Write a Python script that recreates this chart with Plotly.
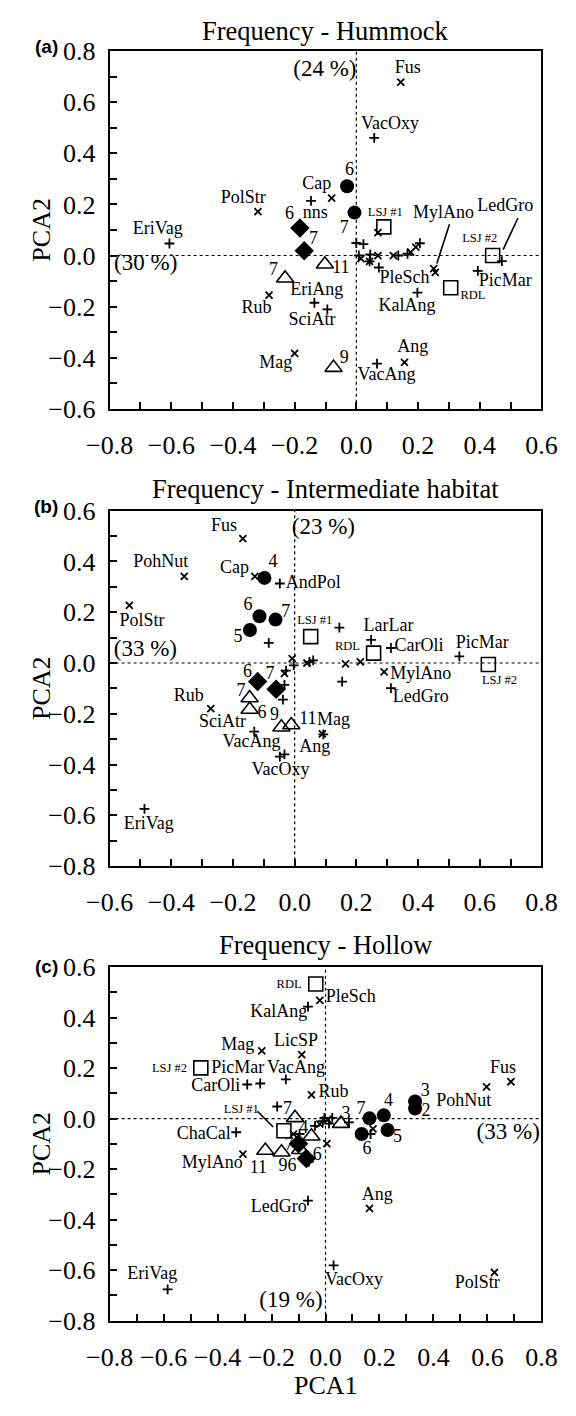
import plotly.graph_objects as go

# ---------------- Panel (a) Hummock ----------------
A_XMARK_X = [0.144, -0.080, -0.319, 0.070, -0.283, -0.200, 0.156, 0.015, 0.043, 0.070, 0.120, 0.176, 0.193, 0.251, 0.256]
A_XMARK_Y = [0.679, 0.225, 0.172, 0.090, -0.155, -0.383, -0.418, -0.012, -0.023, 0.000, 0.000, 0.013, 0.033, -0.051, -0.066]
A_PLUS_X = [0.058, -0.147, -0.606, -0.136, -0.094, 0.067, 0.198, 0.394, 0.472, 0.000, 0.023, 0.008, 0.045, 0.043, 0.073, 0.136, 0.166, 0.206]
A_PLUS_Y = [0.461, 0.214, 0.047, -0.185, -0.211, -0.423, -0.145, -0.060, -0.022, 0.049, 0.045, 0.000, 0.004, -0.023, -0.047, 0.000, 0.007, 0.048]
A_CIRC_X = [-0.030, -0.006]
A_CIRC_Y = [0.271, 0.168]
A_DIAM_X = [-0.183, -0.169]
A_DIAM_Y = [0.108, 0.019]
A_TRI_X = [-0.102, -0.231, -0.074]
A_TRI_Y = [-0.034, -0.089, -0.439]
A_SQ_X = [0.089, 0.442, 0.306]
A_SQ_Y = [0.112, 0.000, -0.126]
A_LAB_TEXT = ["Fus", "VacOxy", "6", "Cap", "nns", "PolStr", "7", "6", "7", "EriVag", "MylAno", "LedGro",
              "11", "7", "EriAng", "Rub", "SciAtr", "Mag", "9", "VacAng", "Ang", "KalAng", "PleSch", "PicMar"]
A_LAB_X = [0.167, 0.109, -0.022, -0.128, -0.133, -0.367, -0.039, -0.217, -0.139, -0.644, 0.283, 0.483,
           -0.050, -0.269, -0.128, -0.324, -0.144, -0.261, -0.039, 0.098, 0.183, 0.164, 0.156, 0.483]
A_LAB_Y = [0.732, 0.512, 0.331, 0.278, 0.166, 0.225, 0.104, 0.159, 0.064, 0.102, 0.166, 0.191,
           -0.051, -0.060, -0.136, -0.209, -0.255, -0.423, -0.404, -0.471, -0.359, -0.200, -0.089, -0.102]
A_SMALL_TEXT = ["LSJ #1", "LSJ #2", "RDL"]
A_SMALL_X = [0.094, 0.400, 0.378]
A_SMALL_Y = [0.166, 0.064, -0.158]
A_PCT_TEXT = ["(24 %)", "(30 %)"]
A_PCT_X = [-0.102, -0.683]
A_PCT_Y = [0.726, -0.034]
A_LEADERS = [(0.302, 0.122, 0.261, -0.031), (0.524, 0.147, 0.476, 0.023)]

# ---------------- Panel (b) Intermediate ----------------
B_XMARK_X = [-0.168, -0.358, -0.536, -0.129, 0.165, 0.213, 0.290, -0.008, -0.033, -0.272, 0.090, 0.040]
B_XMARK_Y = [0.490, 0.341, 0.227, 0.341, -0.003, 0.004, -0.035, 0.017, -0.041, -0.180, -0.279, 0.000]
B_PLUS_X = [-0.048, -0.084, 0.145, 0.248, 0.312, 0.534, 0.312, 0.154, -0.003, -0.033, -0.038, -0.131, -0.048, -0.033, 0.093, 0.048, 0.060, -0.487, -0.028]
B_PLUS_Y = [0.313, 0.079, 0.139, 0.091, 0.059, 0.026, -0.099, -0.073, -0.009, -0.086, -0.144, -0.270, -0.369, -0.360, -0.281, 0.004, 0.010, -0.574, -0.030]
B_CIRC_X = [-0.098, -0.114, -0.062, -0.145]
B_CIRC_Y = [0.335, 0.184, 0.171, 0.130]
B_DIAM_X = [-0.120, -0.060]
B_DIAM_Y = [-0.073, -0.103]
B_TRI_X = [-0.146, -0.146, -0.043, -0.011]
B_TRI_Y = [-0.138, -0.183, -0.253, -0.244]
B_SQ_X = [0.052, 0.256, 0.628]
B_SQ_Y = [0.104, 0.039, -0.006]
B_LAB_TEXT = ["Fus", "PohNut", "PolStr", "Cap", "4", "AndPol", "6", "7", "5", "LarLar", "CarOli", "PicMar",
              "MylAno", "LedGro", "6", "7", "7", "6", "9", "11", "Rub", "SciAtr", "VacAng", "VacOxy",
              "Mag", "Ang", "EriVag"]
B_LAB_X = [-0.229, -0.434, -0.495, -0.195, -0.070, 0.060, -0.151, -0.029, -0.184, 0.304, 0.403, 0.608,
           0.409, 0.409, -0.153, -0.080, -0.174, -0.106, -0.065, 0.043, -0.343, -0.234, -0.140, -0.046,
           0.126, 0.065, -0.473]
B_LAB_Y = [0.538, 0.396, 0.165, 0.371, 0.396, 0.313, 0.227, 0.197, 0.100, 0.145, 0.064, 0.075,
           -0.044, -0.135, -0.037, -0.047, -0.112, -0.198, -0.208, -0.221, -0.131, -0.236, -0.312, -0.423,
           -0.226, -0.333, -0.635]
B_SMALL_TEXT = ["LSJ #1", "RDL", "LSJ #2"]
B_SMALL_X = [0.065, 0.171, 0.664]
B_SMALL_Y = [0.165, 0.062, -0.070]
B_PCT_TEXT = ["(23 %)", "(33 %)"]
B_PCT_X = [0.093, -0.484]
B_PCT_Y = [0.532, 0.049]

# ---------------- Panel (c) Hollow ----------------
C_XMARK_X = [-0.021, -0.236, -0.088, -0.052, 0.005, 0.176, 0.597, 0.687, -0.306, 0.163, 0.626, -0.119, -0.021, 0.008]
C_XMARK_Y = [0.468, 0.268, 0.253, 0.094, -0.099, -0.041, 0.126, 0.146, -0.141, -0.355, -0.609, -0.061, -0.022, -0.003]
C_PLUS_X = [-0.065, -0.147, -0.290, -0.242, -0.179, -0.331, 0.087, -0.096, -0.039, -0.010, -0.004, 0.025, 0.013, 0.167, -0.062, -0.065, 0.030, -0.585]
C_PLUS_Y = [0.443, 0.155, 0.135, 0.139, 0.048, -0.054, -0.015, -0.061, -0.029, -0.010, 0.003, 0.003, -0.020, -0.061, -0.171, -0.325, -0.581, -0.676]
C_CIRC_X = [0.163, 0.216, 0.332, 0.332, 0.230, 0.134]
C_CIRC_Y = [0.001, 0.013, 0.068, 0.040, -0.045, -0.061]
C_DIAM_X = [-0.100, -0.071]
C_DIAM_Y = [-0.100, -0.158]
C_TRI_X = [-0.113, -0.052, 0.057, -0.223, -0.163, -0.094]
C_TRI_Y = [0.003, -0.070, -0.020, -0.126, -0.133, -0.123]
C_SQ_X = [-0.036, -0.462, -0.154]
C_SQ_Y = [0.533, 0.201, -0.048]
C_LAB_TEXT = ["PleSch", "KalAng", "Mag", "LicSP", "PicMar", "VacAng", "CarOli", "Rub", "7", "ChaCal", "4", "3",
              "7", "4", "3", "2", "5", "6", "PohNut", "Fus", "MylAno", "11", "96", "7", "6", "LedGro",
              "Ang", "VacOxy", "EriVag", "PolStr"]
C_LAB_X = [0.094, -0.173, -0.325, -0.109, -0.325, -0.109, -0.407, 0.030, -0.141, -0.451, -0.081, 0.076,
           0.132, 0.233, 0.370, 0.372, 0.267, 0.154, 0.512, 0.658, -0.420, -0.249, -0.141, -0.135, -0.031, -0.173,
           0.192, 0.106, -0.642, 0.562]
C_LAB_Y = [0.479, 0.419, 0.290, 0.307, 0.197, 0.197, 0.126, 0.102, 0.036, -0.061, -0.041, 0.018,
           0.036, 0.068, 0.107, 0.030, -0.076, -0.123, 0.068, 0.197, -0.177, -0.196, -0.190, -0.106, -0.148, -0.351,
           -0.303, -0.641, -0.619, -0.652]
C_SMALL_TEXT = ["RDL", "LSJ #2", "LSJ #1"]
C_SMALL_X = [-0.135, -0.578, -0.312]
C_SMALL_Y = [0.529, 0.197, 0.036]
C_PCT_TEXT = ["(33 %)", "(19 %)"]
C_PCT_X = [0.677, -0.128]
C_PCT_Y = [-0.058, -0.723]
C_LEADERS = [(-0.252, 0.029, -0.194, -0.033)]

TITLES = ["Frequency - Hummock", "Frequency - Intermediate habitat", "Frequency - Hollow"]
PANEL_TAGS = ["(a)", "(b)", "(c)"]
X_RANGES = [(-0.8, 0.6), (-0.6, 0.8), (-0.8, 0.8)]
Y_RANGES = [(-0.6, 0.8), (-0.8, 0.6), (-0.8, 0.6)]

# ---------------- figure ----------------
W, H = 576, 1416
SERIF = "Liberation Serif, Times New Roman, Times, serif"
X_DOM = [92 / W, 556 / W]
PANEL_PX = [(38, 403), (507, 870), (973, 1334)]  # top, bottom in pixels
TITLE_PY = [17, 485, 950]
TAG_PY = [33, 503, 972]

fig = go.Figure()

panels = [
    (A_XMARK_X, A_XMARK_Y, A_PLUS_X, A_PLUS_Y, A_CIRC_X, A_CIRC_Y, A_DIAM_X, A_DIAM_Y, A_TRI_X, A_TRI_Y, A_SQ_X, A_SQ_Y,
     A_LAB_TEXT, A_LAB_X, A_LAB_Y, A_SMALL_TEXT, A_SMALL_X, A_SMALL_Y, A_PCT_TEXT, A_PCT_X, A_PCT_Y, A_LEADERS),
    (B_XMARK_X, B_XMARK_Y, B_PLUS_X, B_PLUS_Y, B_CIRC_X, B_CIRC_Y, B_DIAM_X, B_DIAM_Y, B_TRI_X, B_TRI_Y, B_SQ_X, B_SQ_Y,
     B_LAB_TEXT, B_LAB_X, B_LAB_Y, B_SMALL_TEXT, B_SMALL_X, B_SMALL_Y, B_PCT_TEXT, B_PCT_X, B_PCT_Y, []),
    (C_XMARK_X, C_XMARK_Y, C_PLUS_X, C_PLUS_Y, C_CIRC_X, C_CIRC_Y, C_DIAM_X, C_DIAM_Y, C_TRI_X, C_TRI_Y, C_SQ_X, C_SQ_Y,
     C_LAB_TEXT, C_LAB_X, C_LAB_Y, C_SMALL_TEXT, C_SMALL_X, C_SMALL_Y, C_PCT_TEXT, C_PCT_X, C_PCT_Y, C_LEADERS),
]

shapes = []
annotations = []
for i, p in enumerate(panels):
    (xx, xy, px_, py_, cx, cy, dx, dy, tx, ty, sx, sy,
     lt, lx, ly, st, sx2, sy2, pt, ppx, ppy, leaders) = p
    n = "" if i == 0 else str(i + 1)
    xa, ya = "x" + n, "y" + n

    def sc(x, y, symbol, size, lw=1.6):
        return go.Scatter(
            x=x, y=y, xaxis=xa, yaxis=ya, mode="markers", showlegend=False, hoverinfo="skip",
            marker=dict(symbol=symbol, size=size, color="black",
                        line=dict(color="black", width=lw)),
        )

    fig.add_trace(sc(xx, xy, "x-thin", 7, 1.8))
    fig.add_trace(sc(px_, py_, "cross-thin", 7, 1.8))
    fig.add_trace(sc(cx, cy, "circle", 14, 0))
    fig.add_trace(sc(dx, dy, "diamond", 15, 0))
    fig.add_trace(sc(tx, ty, "triangle-up-open", 15, 1.6))
    fig.add_trace(sc(sx, sy, "square-open", 14, 1.6))

    for texts, xs, ys, size in ((lt, lx, ly, 18), (st, sx2, sy2, 12.5), (pt, ppx, ppy, 23)):
        fig.add_trace(go.Scatter(
            x=xs, y=ys, xaxis=xa, yaxis=ya, mode="text", text=texts, showlegend=False, hoverinfo="skip",
            textposition="middle center", textfont=dict(family=SERIF, size=size, color="black"),
        ))

    for (x0, y0, x1, y1) in leaders:
        shapes.append(dict(type="line", xref=xa, yref=ya, x0=x0, y0=y0, x1=x1, y1=y1,
                           line=dict(color="black", width=1.6)))

    # dotted zero lines
    shapes.append(dict(type="line", xref=xa, yref=ya + " domain", x0=0, x1=0, y0=0, y1=1,
                       line=dict(color="black", width=1.2, dash="dot")))
    shapes.append(dict(type="line", xref=xa + " domain", yref=ya, x0=0, x1=1, y0=0, y1=0,
                       line=dict(color="black", width=1.2, dash="dot")))

    top, bot = PANEL_PX[i]
    ydom = [1 - bot / H, 1 - top / H]
    axis_common = dict(
        showgrid=False, zeroline=False, showline=True, linecolor="black", linewidth=2, mirror=True,
        ticks="inside", ticklen=7, tickwidth=1.8, tickcolor="black", dtick=0.2, tick0=0,
        tickformat=".1f", tickfont=dict(family=SERIF, size=26, color="black"),
        minor=dict(dtick=0.1, tick0=0, ticks="inside", ticklen=7, tickwidth=1.8, tickcolor="black"),
        fixedrange=True,
    )
    fig.layout["xaxis" + n] = dict(axis_common, domain=X_DOM, range=list(X_RANGES[i]), anchor=ya,
                                   ticklabelstandoff=12)
    fig.layout["yaxis" + n] = dict(axis_common, domain=ydom, range=list(Y_RANGES[i]), anchor=xa,
                                   ticklabelstandoff=7)

    annotations.append(dict(text=TITLES[i], xref="paper", yref="paper", x=(X_DOM[0] + X_DOM[1]) / 2,
                            y=1 - TITLE_PY[i] / H, showarrow=False, xanchor="center", yanchor="middle",
                            font=dict(family=SERIF, size=26.5, color="black")))
    annotations.append(dict(text="<b>" + PANEL_TAGS[i] + "</b>", xref="paper", yref="paper", x=24 / W,
                            y=1 - TAG_PY[i] / H, showarrow=False, xanchor="center", yanchor="middle",
                            font=dict(family="Liberation Sans, Arial, sans-serif", size=19, color="black")))
    annotations.append(dict(text="PCA2", xref="paper", yref="paper", x=19 / W,
                            y=1 - (top + bot) / 2 / H, showarrow=False, textangle=-90,
                            xanchor="center", yanchor="middle",
                            font=dict(family=SERIF, size=26, color="black")))

annotations.append(dict(text="PCA1", xref="paper", yref="paper", x=(X_DOM[0] + X_DOM[1]) / 2,
                        y=1 - 1400 / H, showarrow=False, xanchor="center", yanchor="middle",
                        font=dict(family=SERIF, size=26, color="black")))

fig.update_layout(
    width=W, height=H, margin=dict(l=0, r=0, t=0, b=0),
    paper_bgcolor="white", plot_bgcolor="white",
    shapes=shapes, annotations=annotations, showlegend=False,
)

fig.write_html("out.html", config={"displayModeBar": False})

# make sure the page itself adds no margin around the figure
with open("out.html", "r", encoding="utf-8") as f:
    html = f.read()
html = html.replace("<head>", "<head><style>html,body{margin:0;padding:0;overflow:hidden;}</style>", 1)
with open("out.html", "w", encoding="utf-8") as f:
    f.write(html)
